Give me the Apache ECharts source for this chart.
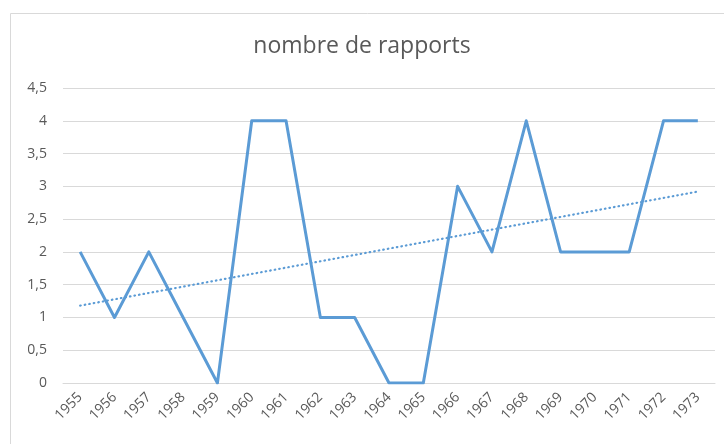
<!DOCTYPE html>
<html>
<head>
<meta charset="utf-8">
<script src="https://cdn.jsdelivr.net/npm/echarts@6/dist/echarts.min.js"></script>
<style>
  html, body { margin: 0; padding: 0; background: #fff; }
  #chart { width: 724px; height: 444px; }
</style>
</head>
<body>
<div id="chart"></div>
<script>
var years = ['1955','1956','1957','1958','1959','1960','1961','1962','1963','1964',
             '1965','1966','1967','1968','1969','1970','1971','1972','1973'];
var reports = [2, 1, 2, 1, 0, 4, 4, 1, 1, 0, 0, 3, 2, 4, 2, 2, 2, 4, 4];
// linear trend, ends
var trendStart = 1.18;
var trendEnd = 2.92;

var trend = years.map(function (y, i) {
    if (i === 0) return trendStart;
    if (i === years.length - 1) return trendEnd;
    return null;
});

var myChart = echarts.init(document.getElementById('chart'));

var option = {
    animation: false,
    textStyle: { fontFamily: 'Open Sans' },
    graphic: [{
        type: 'rect',
        shape: { x: 10.5, y: 13.5, width: 740, height: 460 },
        style: { fill: 'none', stroke: '#d9d9d9', lineWidth: 1 }
    }],
    title: {
        text: 'nombre de rapports',
        left: 'center',
        top: 30,
        textStyle: { fontSize: 23, fontWeight: 'normal', color: '#595959', fontFamily: 'Open Sans' }
    },
    grid: { left: 63, right: 9, top: 88, bottom: 61 },
    xAxis: {
        type: 'category',
        data: years,
        boundaryGap: true,
        axisLine: { show: true, lineStyle: { color: '#d9d9d9', width: 1 } },
        axisTick: { show: false },
        axisLabel: { rotate: 45, color: '#595959', fontSize: 14, margin: 12, interval: 0 }
    },
    yAxis: {
        type: 'value',
        min: 0,
        max: 4.5,
        interval: 0.5,
        axisLine: { show: false },
        axisTick: { show: false },
        splitLine: { lineStyle: { color: '#d9d9d9', width: 1 } },
        axisLabel: {
            color: '#595959',
            fontSize: 14,
            margin: 16,
            formatter: function (v) { return String(v).replace('.', ','); }
        }
    },
    series: [
        {
            name: 'nombre de rapports',
            type: 'line',
            data: reports,
            symbol: 'none',
            lineStyle: { color: '#5b9bd5', width: 3, join: 'round' }
        },
        {
            name: 'tendance',
            type: 'line',
            data: trend,
            connectNulls: true,
            symbol: 'none',
            lineStyle: { color: '#5b9bd5', width: 2.2, type: [0.6, 4], cap: 'round' }
        }
    ]
};

myChart.setOption(option);
</script>
</body>
</html>
